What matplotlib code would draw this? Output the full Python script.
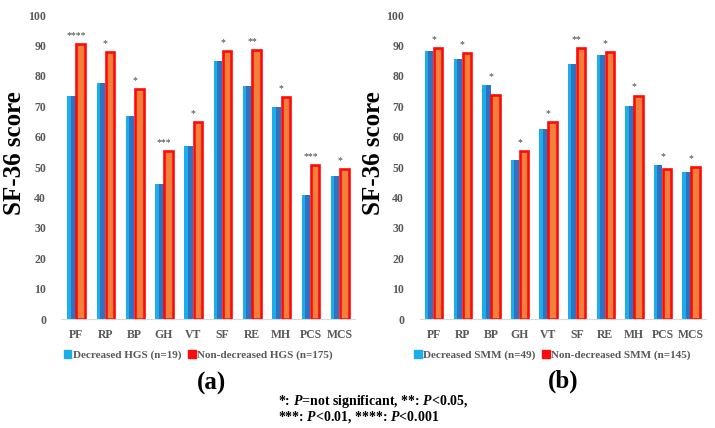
import matplotlib.pyplot as plt
from matplotlib.patches import Patch
import numpy as np

# SF-36 domains
domains = ['PF', 'RP', 'BP', 'GH', 'VT', 'SF', 'RE', 'MH', 'PCS', 'MCS']

# (a) handgrip strength
hgs_dec = [73.2, 77.6, 66.8, 44.4, 57.0, 84.9, 76.5, 69.7, 40.9, 46.9]
hgs_non = [90.5, 87.9, 75.5, 55.4, 64.8, 88.1, 88.4, 73.0, 50.6, 49.4]
hgs_stars = ['****', '*', '*', '***', '*', '*', '**', '*', '***', '*']
hgs_labels = ['Decreased HGS (n=19)', 'Non-decreased HGS (n=175)']

# (b) skeletal muscle mass
smm_dec = [88.2, 85.5, 77.0, 52.4, 62.5, 83.8, 86.7, 70.1, 50.7, 48.3]
smm_non = [89.2, 87.4, 73.8, 55.2, 64.9, 89.2, 87.8, 73.5, 49.4, 49.9]
smm_stars = ['*', '*', '*', '*', '*', '**', '*', '*', '*', '*']
smm_labels = ['Decreased SMM (n=49)', 'Non-decreased SMM (n=145)']

plt.rcParams['font.family'] = ['Liberation Serif', 'DejaVu Serif']
plt.rcParams['mathtext.fontset'] = 'custom'
plt.rcParams['mathtext.it'] = 'Liberation Serif:italic:bold'
plt.rcParams['mathtext.rm'] = 'Liberation Serif:bold'

LIGHT_BLUE = '#1BAEEA'
DARK_BLUE = '#2F72C2'
RED = '#FF0A0A'
ORANGE = '#F0803C'
GREY = '#595959'


def panel(ax, dec, non, stars):
    x = np.arange(len(domains))
    w = 0.29
    # blue bar drawn as two tones to mimic the gradient fill
    ax.bar(x - 0.16 - w * 0.3, dec, width=w * 0.4, color=LIGHT_BLUE, linewidth=0)
    ax.bar(x - 0.16 + w * 0.2, dec, width=w * 0.6, color=DARK_BLUE, linewidth=0)
    ax.bar(x + 0.155, non, width=w, color=ORANGE, edgecolor=RED, linewidth=1.9)
    for xi, a, b, s in zip(x, dec, non, stars):
        ax.text(xi, max(a, b) + 1.3, s, ha='center', va='bottom',
                fontsize=7, color='#404040')
    ax.set_xlim(-0.5, len(domains) - 0.5)
    ax.set_ylim(0, 100)
    ax.set_yticks(range(0, 101, 10))
    ax.set_xticks(x)
    ax.set_xticklabels(domains)
    for sp in ['top', 'right', 'left']:
        ax.spines[sp].set_visible(False)
    ax.spines['bottom'].set_color('#D9D9D9')
    ax.tick_params(length=0, colors=GREY, labelsize=8.5)
    ax.tick_params(axis='y', pad=11)
    ax.tick_params(axis='x', pad=7)
    for lab in ax.get_xticklabels() + ax.get_yticklabels():
        lab.set_fontweight('bold')
    ax.set_ylabel('SF-36 score', fontsize=18, fontweight='bold', color='black')


fig = plt.figure(figsize=(7.15, 4.28), dpi=100)
ax1 = fig.add_axes([61.5 / 715, 109 / 428, 293 / 715, 304 / 428])
ax2 = fig.add_axes([419.5 / 715, 109 / 428, 286 / 715, 304 / 428])

panel(ax1, hgs_dec, hgs_non, hgs_stars)
panel(ax2, smm_dec, smm_non, smm_stars)
ax1.yaxis.set_label_coords(-35 / 293, 0.545)
ax2.yaxis.set_label_coords(-34 / 286, 0.545)

for labels, cx in [(hgs_labels, 198), (smm_labels, 552)]:
    handles = [Patch(facecolor=LIGHT_BLUE, edgecolor=LIGHT_BLUE),
               Patch(facecolor=RED, edgecolor=RED)]
    leg = fig.legend(handles, labels, loc='center', ncol=2,
                     bbox_to_anchor=(cx / 715, 1 - 355 / 428), frameon=False,
                     handlelength=0.7, handleheight=0.7, handletextpad=0.1,
                     columnspacing=0.6, prop={'size': 8, 'weight': 'bold'})
    for t in leg.get_texts():
        t.set_color(GREY)

fig.text(211 / 715, 1 - 383 / 428, '(a)', ha='center', va='center',
         fontsize=18, fontweight='bold')
fig.text(563 / 715, 1 - 381 / 428, '(b)', ha='center', va='center',
         fontsize=18, fontweight='bold')

fig.text(278 / 715, 1 - 402 / 428, r'*: $P$=not significant, **: $P$<0.05,',
         ha='left', va='center', fontsize=10, fontweight='bold')
fig.text(278 / 715, 1 - 417 / 428, r'***: $P$<0.01, ****: $P$<0.001',
         ha='left', va='center', fontsize=10, fontweight='bold')

fig.savefig('out.png', dpi=100)
